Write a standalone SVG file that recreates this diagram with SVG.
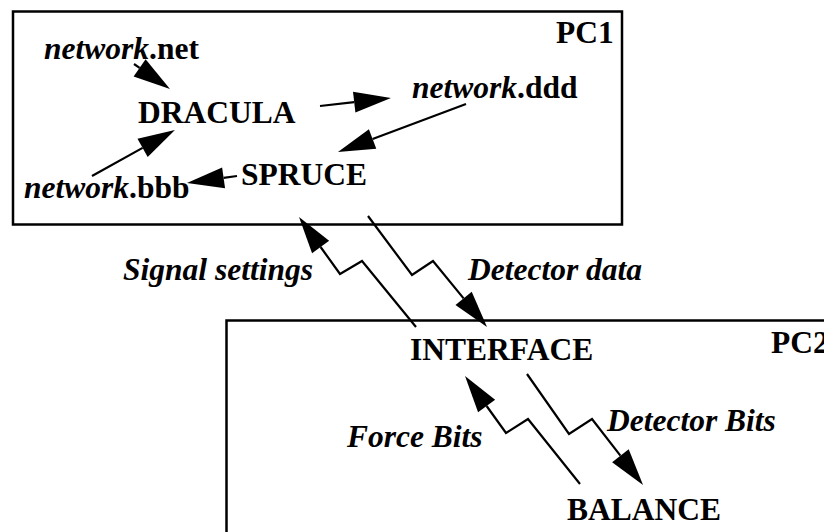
<svg xmlns="http://www.w3.org/2000/svg" width="824" height="532" viewBox="0 0 824 532">
<style>
text{font-family:"Liberation Serif","Times New Roman",serif;font-weight:bold;font-size:31.5px;fill:#000}
.i{font-style:italic}
.box{fill:#fff;stroke:#000;stroke-width:2.5}
.c{fill:none;stroke:#000;stroke-width:2.2;stroke-linejoin:miter}
</style>
<defs>
<marker id="ah" markerUnits="userSpaceOnUse" markerWidth="40" markerHeight="24" viewBox="0 -12 40 24" refX="0" refY="0" orient="auto" overflow="visible">
<path d="M37,0 L0,-10.5 L0,10.5 z" fill="#000"/>
</marker>
</defs>
<rect width="824" height="532" fill="#fff"/>
<g id="pc1">
<rect class="box" x="13" y="11.5" width="609" height="213"/>
<text x="556" y="43">PC1</text>
</g>
<g id="pc2">
<rect class="box" x="226.5" y="320.5" width="640" height="260"/>
<text x="771" y="353">PC2</text>
</g>
<g id="network-net"><text x="44" y="59"><tspan class="i">network</tspan>.net</text></g>
<g id="dracula"><text x="138" y="123">DRACULA</text></g>
<g id="network-ddd"><text x="412" y="98"><tspan class="i">network</tspan>.ddd</text></g>
<g id="spruce"><text x="241" y="185">SPRUCE</text></g>
<g id="network-bbb"><text x="24" y="198"><tspan class="i">network</tspan>.bbb</text></g>
<g id="interface"><text x="410" y="360">INTERFACE</text></g>
<g id="balance"><text x="567" y="520">BALANCE</text></g>
<g id="connectors">
<path class="c" d="M134,64 L139.6,67.9" marker-end="url(#ah)"/>
<path class="c" d="M92,176 L142.6,147.9" marker-end="url(#ah)"/>
<path class="c" d="M237,176 L223.6,177.9" marker-end="url(#ah)"/>
<path class="c" d="M320,106 L354.2,102.1" marker-end="url(#ah)"/>
<path class="c" d="M466,104 L372.6,139" marker-end="url(#ah)"/>
<path class="c" d="M416,327 L362,261 L340,274 L320.6,247" marker-end="url(#ah)"/>
<path class="c" d="M368,216 L412,275 L433,261 L463.6,298.4" marker-end="url(#ah)"/>
<path class="c" d="M580,484 L528,419 L506,433 L486.6,406" marker-end="url(#ah)"/>
<path class="c" d="M527,374 L569,434 L592,419 L620.4,455.7" marker-end="url(#ah)"/>
<text class="i" x="123" y="280">Signal settings</text>
<text class="i" x="468" y="280">Detector data</text>
<text class="i" x="347" y="447">Force Bits</text>
<text class="i" x="607" y="431">Detector Bits</text>
</g>
</svg>
